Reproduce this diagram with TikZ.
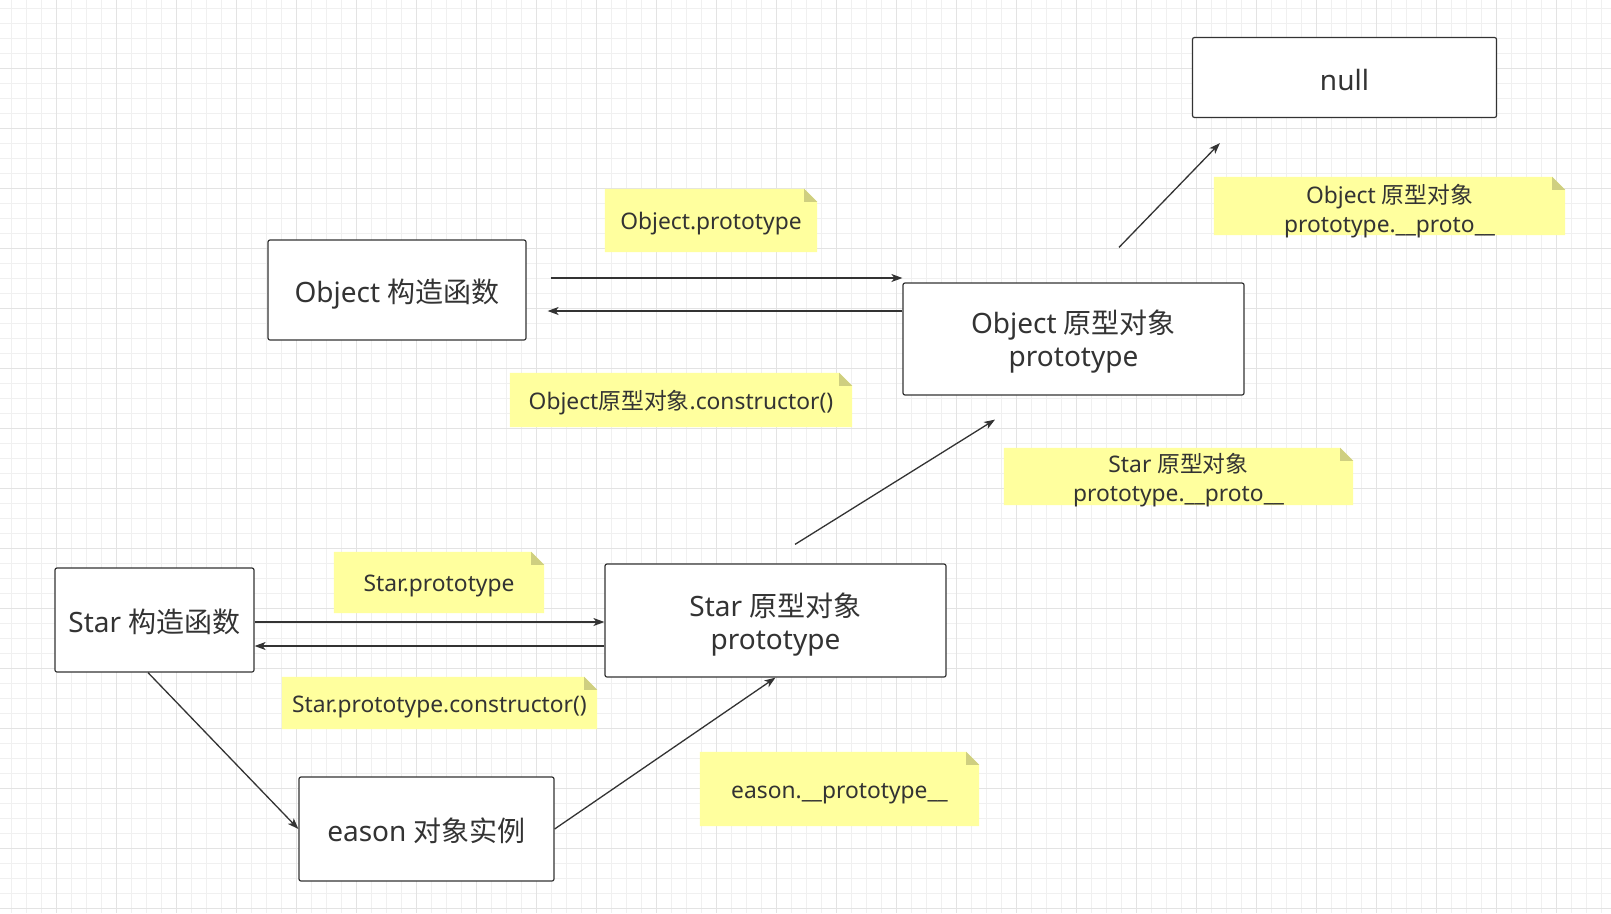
\documentclass[tikz,border=0pt]{standalone}
\usepackage{fontspec}
\setmainfont{Noto Sans}
\newfontfamily\cjk{Noto Sans CJK SC}
\usetikzlibrary{arrows.meta,calc}
\definecolor{txt}{HTML}{333333}
\definecolor{notefill}{HTML}{FFFF9E}
\definecolor{notefold}{HTML}{CFCF80}
\definecolor{gridminor}{HTML}{F0F0F0}
\definecolor{gridmajor}{HTML}{E3E3E3}
\pgfdeclarelayer{gridlayer}
\pgfdeclarelayer{notelayer}
\pgfsetlayers{gridlayer,notelayer,main}
\newcommand{\notebox}[1]{%
  \fill[notefill] (#1.north west) -- ([xshift=-13pt]#1.north east) -- ([yshift=-13pt]#1.north east) -- (#1.south east) -- (#1.south west) -- cycle;
  \fill[notefold] ([xshift=-13pt]#1.north east) -- ([xshift=-13pt,yshift=-13pt]#1.north east) -- ([yshift=-13pt]#1.north east) -- cycle;
}
% two centred lines with no declared size; #1 = how far the block is lowered
\newcommand{\twoline}[3]{\raisebox{-#1}[0pt][0pt]{\begin{tabular}{@{}c@{}}#2\\#3\end{tabular}}}
\tikzset{
  boxbase/.style={draw=txt, line width=1.2pt, rounded corners=2pt, fill=white, text=txt,
    font=\fontsize{28}{33}\selectfont, align=center, inner sep=0pt},
  box/.style={boxbase, execute at begin node={\rule[-6pt]{0pt}{37pt}}},
  notebase/.style={text=txt, font=\fontsize{22.8}{28.8}\selectfont, align=center, inner sep=0pt},
  note/.style={notebase, execute at begin node={\rule[-6pt]{0pt}{30.5pt}}},
  conn/.style={draw=txt, line width=1.3pt, -{Stealth[length=11pt,width=8pt,inset=3pt]}},
}
\begin{document}
\begin{tikzpicture}[x=1pt,y=-1pt]
\useasboundingbox (0,0) rectangle (1611,913);
\begin{pgfonlayer}{gridlayer}
  \fill[white] (0,0) rectangle (1611,913);
  \foreach \x in {11.7,26.7,...,1611} \draw[gridminor, line width=1pt] (\x,0) -- (\x,913);
  \foreach \y in {8.3,23.3,...,913} \draw[gridminor, line width=1pt] (0,\y) -- (1611,\y);
  \foreach \x in {56.7,116.7,...,1611} \draw[gridmajor, line width=1pt] (\x,0) -- (\x,913);
  \foreach \y in {68.3,128.3,...,913} \draw[gridmajor, line width=1pt] (0,\y) -- (1611,\y);
\end{pgfonlayer}

% boxes
\node[box, minimum width=304pt, minimum height=80pt] (null) at (1344.5,77.5) {null};
\node[box, minimum width=258pt, minimum height=100pt] (octor) at (397,290) {Object {\cjk 构造函数}};
\node[boxbase, minimum width=341pt, minimum height=112pt] (oproto) at (1073.5,339) {\twoline{10pt}{Object {\cjk 原型对象}}{prototype}};
\node[box, minimum width=199pt, minimum height=104pt] (sctor) at (154.5,620) {Star {\cjk 构造函数}};
\node[boxbase, minimum width=341pt, minimum height=113pt] (sproto) at (775.5,620.5) {\twoline{12pt}{Star {\cjk 原型对象}}{prototype}};
\node[box, minimum width=255pt, minimum height=104pt] (eason) at (426.5,829) {eason {\cjk 对象实例}};

% notes
\node[note, minimum width=212pt, minimum height=63pt] (n1) at (711,220.5) {Object.prototype};
\node[notebase, minimum width=351pt, minimum height=58pt] (n2) at (1389.5,206) {\twoline{11.7pt}{Object {\cjk 原型对象}}{prototype.\_\_proto\_\_}};
\node[note, minimum width=342pt, minimum height=54pt] (n3) at (681,400) {Object{\cjk 原型对象}.constructor()};
\node[notebase, minimum width=349pt, minimum height=57pt] (n4) at (1178.5,476.5) {\twoline{9.8pt}{Star {\cjk 原型对象}}{prototype.\_\_proto\_\_}};
\node[note, minimum width=210pt, minimum height=61pt] (n5) at (439,582.5) {Star.prototype};
\node[note, minimum width=315pt, minimum height=52pt] (n6) at (439.5,703) {Star.prototype.constructor()};
\node[note, minimum width=279pt, minimum height=74pt] (n7) at (839.5,789) {eason.\_\_prototype\_\_};
\begin{pgfonlayer}{notelayer}
  \foreach \n in {n1,n2,n3,n4,n5,n6,n7} {\notebox{\n}}
\end{pgfonlayer}

% connectors
\draw[conn] ([xshift=24pt,yshift=12pt]octor.east) -- ([yshift=61pt]oproto.west);
\draw[conn] ([yshift=28pt]oproto.west) -- ([xshift=21pt,yshift=-21pt]octor.east);
\draw[conn] ([xshift=45.5pt,yshift=35pt]oproto.north) -- ([xshift=28pt,yshift=-25pt]null.south west);
\draw[conn] ([xshift=19.5pt,yshift=19pt]sproto.north) -- ([xshift=-78.5pt,yshift=-24pt]oproto.south);
\draw[conn] ([yshift=-2pt]sctor.east) -- ([yshift=-1.5pt]sproto.west);
\draw[conn] ([yshift=-25.5pt]sproto.west) -- ([yshift=-26pt]sctor.east);
\draw[conn] ([xshift=-6.5pt]sctor.south) -- (eason.west);
\draw[conn] (eason.east) -- (sproto.south);
\end{tikzpicture}
\end{document}
